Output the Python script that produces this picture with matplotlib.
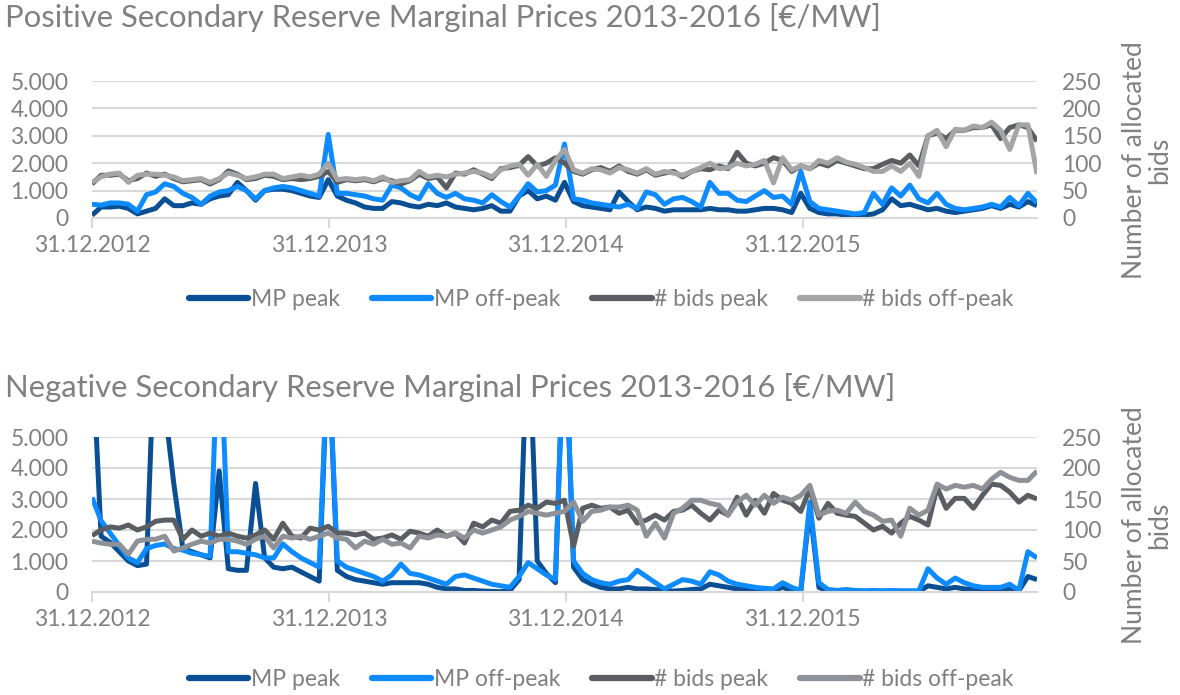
import matplotlib
matplotlib.use("Agg")
import matplotlib.pyplot as plt
import matplotlib.dates as mdates
from matplotlib.ticker import FuncFormatter, FixedLocator
import pandas as pd

# ---------------- data (bi-weekly samples, 31.12.2012 - end of 2016) ----------------
dates = pd.date_range("2012-12-31", periods=105, freq="14D")

pos_mp_peak = [
    100, 400, 400, 430, 350, 150, 250, 350, 700, 450,
    450, 550, 500, 700, 800, 850, 1300, 1000, 650, 1000,
    1050, 1050, 1000, 900, 800, 750, 1400, 800, 650, 550,
    400, 350, 350, 600, 550, 450, 400, 500, 450, 550,
    400, 350, 300, 350, 450, 250, 250, 800, 1000, 700,
    800, 650, 1300, 600, 450, 400, 350, 300, 950, 600,
    300, 400, 350, 250, 300, 300, 300, 300, 350, 300,
    300, 250, 250, 300, 350, 350, 300, 200, 900, 350,
    200, 150, 150, 100, 100, 100, 150, 300, 700, 450,
    500, 400, 300, 350, 250, 200, 250, 300, 350, 450,
    350, 500, 400, 600, 450]
pos_mp_offpeak = [
    500, 470, 550, 550, 500, 250, 850, 950, 1250, 1150,
    900, 750, 500, 800, 950, 1000, 1150, 1000, 700, 1000,
    1100, 1150, 1100, 1000, 900, 800, 3050, 900, 900, 850,
    800, 700, 650, 1200, 1100, 850, 700, 1250, 900, 750,
    900, 700, 650, 550, 850, 600, 400, 800, 1250, 950,
    1000, 1200, 2700, 700, 650, 550, 500, 450, 400, 500,
    350, 950, 850, 500, 700, 750, 600, 400, 1300, 900,
    900, 650, 600, 800, 1000, 750, 800, 500, 1700, 600,
    350, 300, 250, 200, 150, 200, 900, 500, 1100, 800,
    1200, 700, 550, 900, 500, 350, 300, 350, 400, 500,
    400, 750, 450, 900, 550]
pos_bids_peak = [
    62, 78, 78, 80, 68, 72, 82, 76, 80, 72,
    66, 68, 70, 62, 70, 86, 80, 70, 72, 78,
    76, 70, 72, 70, 72, 76, 85, 65, 70, 68,
    70, 66, 72, 68, 62, 68, 80, 72, 75, 55,
    82, 80, 88, 80, 72, 90, 92, 96, 112, 95,
    100, 110, 100, 85, 80, 88, 92, 85, 95, 85,
    80, 88, 78, 82, 85, 75, 85, 90, 88, 95,
    90, 120, 100, 95, 100, 110, 105, 85, 95, 90,
    100, 95, 105, 100, 95, 90, 90, 98, 105, 100,
    115, 95, 150, 155, 145, 160, 160, 165, 165, 170,
    145, 165, 170, 165, 140]
pos_bids_offpeak = [
    65, 75, 80, 82, 65, 78, 80, 80, 78, 75,
    68, 70, 72, 65, 72, 82, 78, 72, 75, 80,
    80, 72, 75, 78, 75, 80, 100, 70, 72, 70,
    72, 68, 75, 65, 68, 70, 85, 75, 78, 75,
    80, 82, 85, 82, 75, 88, 95, 98, 78, 98,
    76, 105, 125, 88, 82, 90, 88, 82, 92, 88,
    82, 90, 80, 85, 82, 78, 85, 92, 100, 90,
    92, 100, 95, 98, 105, 64, 110, 88, 95, 90,
    105, 100, 110, 102, 98, 92, 85, 85, 95, 85,
    100, 76, 150, 160, 130, 162, 160, 168, 165, 175,
    160, 125, 170, 170, 80]

neg_mp_peak = [
    8000, 1800, 1600, 1300, 1000, 850, 900, 9000, 6000, 3500,
    1400, 1300, 1200, 1100, 3900, 750, 700, 700, 3500, 1100,
    800, 750, 800, 650, 500, 350, 8000, 700, 500, 400,
    350, 300, 250, 300, 300, 300, 300, 250, 150, 100,
    100, 50, 50, 30, 20, 10, 50, 400, 9000, 1000,
    600, 300, 9000, 800, 400, 250, 150, 100, 100, 150,
    100, 100, 80, 50, 30, 50, 80, 100, 250, 200,
    150, 100, 100, 80, 60, 50, 150, 50, 20, 2700,
    150, 30, 20, 30, 20, 10, 20, 10, 20, 10,
    10, 10, 200, 150, 100, 150, 100, 80, 60, 50,
    50, 120, 40, 500, 400]
neg_mp_offpeak = [
    3050, 2300, 1900, 1500, 1100, 950, 1400, 1500, 1550, 1400,
    1350, 1250, 1200, 1150, 9000, 1300, 1300, 1250, 1200, 1100,
    1100, 1550, 1300, 1100, 950, 800, 8000, 1000, 800, 700,
    600, 500, 350, 550, 900, 600, 550, 450, 350, 250,
    500, 550, 450, 350, 250, 200, 150, 500, 950, 750,
    550, 400, 9000, 1000, 600, 400, 300, 250, 350, 400,
    700, 500, 300, 100, 250, 400, 350, 250, 650, 550,
    350, 250, 200, 150, 120, 100, 300, 150, 50, 2900,
    300, 80, 50, 80, 50, 40, 50, 40, 50, 40,
    40, 40, 750, 450, 250, 450, 300, 200, 150, 150,
    150, 250, 50, 1300, 1100]
neg_bids_peak = [
    91, 100, 105, 103, 108, 100, 105, 114, 116, 116,
    85, 100, 90, 95, 90, 95, 90, 87, 92, 100,
    85, 111, 90, 87, 103, 100, 106, 95, 95, 92,
    95, 85, 87, 92, 85, 98, 95, 90, 100, 90,
    95, 79, 111, 105, 116, 111, 130, 132, 140, 135,
    145, 143, 148, 74, 135, 140, 135, 137, 127, 132,
    111, 116, 124, 116, 130, 132, 140, 127, 116, 132,
    124, 153, 124, 148, 127, 159, 148, 143, 130, 166,
    119, 143, 127, 124, 122, 111, 100, 106, 95, 111,
    122, 116, 108, 169, 135, 151, 151, 135, 156, 174,
    172, 161, 145, 156, 150]
neg_bids_offpeak = [
    82, 79, 77, 77, 61, 82, 85, 85, 90, 66,
    71, 77, 82, 79, 85, 85, 82, 77, 85, 90,
    71, 90, 87, 90, 85, 90, 95, 87, 85, 71,
    82, 77, 85, 77, 79, 71, 90, 87, 92, 90,
    95, 87, 100, 95, 100, 105, 116, 122, 130, 127,
    124, 127, 130, 145, 114, 130, 132, 137, 137, 140,
    132, 90, 111, 87, 127, 135, 148, 148, 143, 140,
    124, 145, 156, 140, 156, 143, 153, 148, 156, 172,
    124, 130, 132, 127, 145, 130, 124, 114, 116, 90,
    135, 124, 132, 174, 166, 172, 169, 172, 166, 182,
    193, 185, 180, 180, 195]

titles = ["Positive Secondary Reserve Marginal Prices 2013-2016 [€/MW]",
          "Negative Secondary Reserve Marginal Prices 2013-2016 [€/MW]"]
series_labels = ["MP peak", "MP off-peak", "# bids peak", "# bids off-peak"]
year_ticks = pd.to_datetime(["2012-12-31", "2013-12-31", "2014-12-31", "2015-12-31"])
year_tick_labels = ["31.12.2012", "31.12.2013", "31.12.2014", "31.12.2015"]
right_label = "Number of allocated\nbids"

# ---------------- style ----------------
plt.rcParams["font.family"] = ["Lato", "DejaVu Sans"]
TXT = "#808080"
GRID = "#d9d9d9"
C_PEAK = "#0a4f93"
C_OFF = "#0d8bff"
C_BPEAK = "#5a5e63"
C_BOFF = ["#a5a5a5", "#8e9197"]
LW = 3.6
FS = 16.5

W, H = 1180, 695
fig = plt.figure(figsize=(W / 100, H / 100), dpi=100)

panels = [
    (pos_mp_peak, pos_mp_offpeak, pos_bids_peak, pos_bids_offpeak, 81, 218, 18, 160, 300),
    (neg_mp_peak, neg_mp_offpeak, neg_bids_peak, neg_bids_offpeak, 437, 592, 388, 525, 680),
]
x0, x1 = 92, 1037

for k, (mpp, mpo, bp, bo, ytop, ybot, ytitle, ylab, yleg) in enumerate(panels):
    ax = fig.add_axes([x0 / W, 1 - ybot / H, (x1 - x0) / W, (ybot - ytop) / H])
    ax2 = ax.twinx()
    l1, = ax.plot(dates, mpp, color=C_PEAK, lw=LW, solid_capstyle="butt", label=series_labels[0])
    l2, = ax.plot(dates, mpo, color=C_OFF, lw=LW, solid_capstyle="butt", label=series_labels[1])
    l3, = ax2.plot(dates, bp, color=C_BPEAK, lw=LW, solid_capstyle="butt", label=series_labels[2])
    l4, = ax2.plot(dates, bo, color=C_BOFF[k], lw=LW, solid_capstyle="butt", label=series_labels[3])

    ax.set_ylim(0, 5000)
    ax2.set_ylim(0, 250)
    ax.set_xlim(dates[0], dates[-1])
    ax.set_yticks(range(0, 5001, 1000))
    ax2.set_yticks(range(0, 251, 50))
    ax.yaxis.set_major_formatter(FuncFormatter(lambda v, p: f"{int(v):,}".replace(",", ".")))
    ax.grid(axis="y", color=GRID, lw=1.5)
    ax.set_axisbelow(True)
    ax.xaxis.set_major_locator(FixedLocator(mdates.date2num(year_ticks)))
    ax.set_xticklabels(year_tick_labels)

    for a in (ax, ax2):
        for s in ("top", "left", "right", "bottom"):
            a.spines[s].set_visible(False)
    ax.spines["bottom"].set_visible(True)
    ax.spines["bottom"].set_color(GRID)
    ax.spines["bottom"].set_linewidth(1.5)
    ax.tick_params(axis="x", colors=GRID, length=7, width=1.5, pad=5, labelsize=FS, labelcolor=TXT)
    ax.tick_params(axis="y", length=0, pad=17, labelsize=FS, labelcolor=TXT)
    ax2.tick_params(axis="y", length=0, pad=18, labelsize=FS, labelcolor=TXT)

    fig.text(5 / W, 1 - ytitle / H, titles[k], fontsize=22.3, color=TXT, ha="left", va="center")
    fig.text(1147 / W, 1 - ylab / H, right_label, fontsize=19, color=TXT, rotation=90,
             ha="center", va="center", multialignment="center", linespacing=1.0)
    leg = fig.legend([l1, l2, l3, l4], series_labels, loc="center", ncol=4,
                     bbox_to_anchor=(601 / W, 1 - yleg / H), frameon=False,
                     fontsize=16.5, handlelength=2.6, handletextpad=0.1, columnspacing=1.4)
    for t in leg.get_texts():
        t.set_color(TXT)
    for h in leg.legend_handles:
        h.set_linewidth(4.5)
        h.set_solid_capstyle("round")

fig.savefig("out.png", dpi=100)
